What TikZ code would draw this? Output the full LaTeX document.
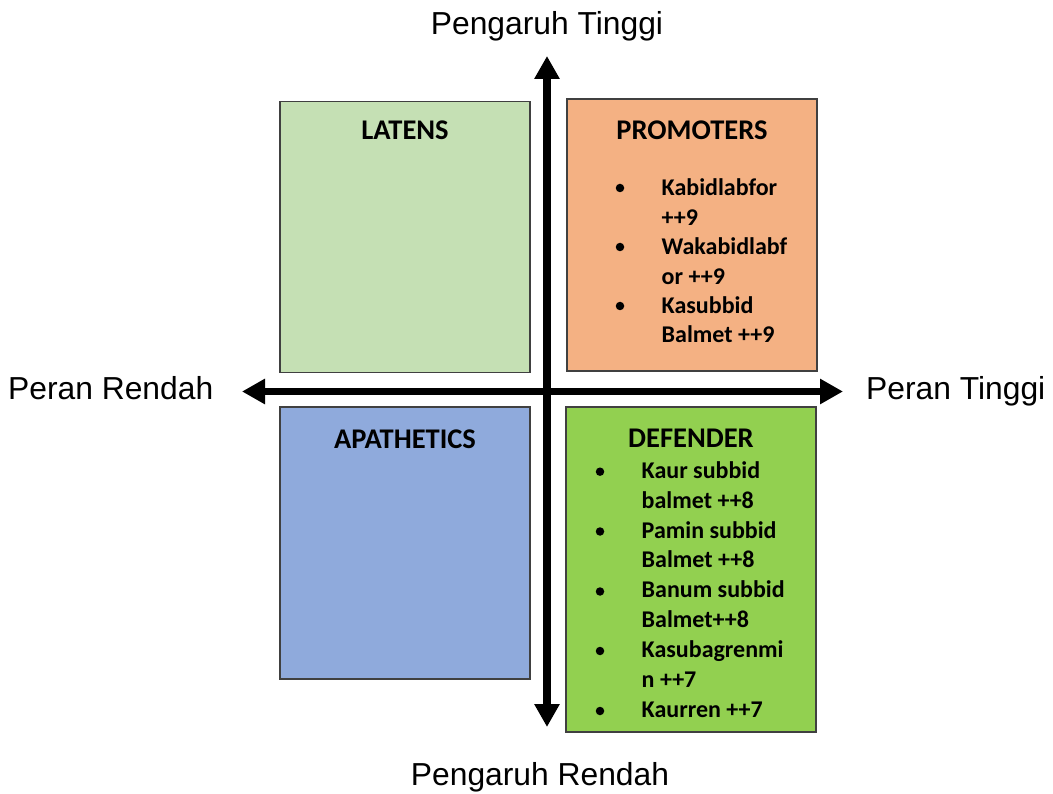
\documentclass[tikz,border=0pt]{standalone}
\usepackage{fontspec}
\setmainfont{Liberation Sans}
\newfontfamily\carlitofont{Carlito}
\usetikzlibrary{arrows.meta}
\definecolor{latcol}{HTML}{C5E0B4}
\definecolor{procol}{HTML}{F4B183}
\definecolor{apacol}{HTML}{8FAADC}
\definecolor{defcol}{HTML}{92D050}
\definecolor{edgecol}{HTML}{404040}
\begin{document}
\begin{tikzpicture}[x=1pt,y=-1pt,
 quad/.style={draw=edgecol,line width=1.2pt,rectangle,inner sep=0pt,minimum width=250pt},
 axislabel/.style={font=\fontsize{31.8}{36}\selectfont,inner sep=0pt},
 heading/.style={font=\carlitofont\bfseries\fontsize{28.5}{34}\selectfont,inner sep=0pt,anchor=base},
 itemtext/.style={font=\carlitofont\bfseries\fontsize{24}{29}\selectfont,inner sep=0pt,anchor=base west},
 bulletdot/.style={circle,fill=black,minimum size=8.5pt,inner sep=0pt},
 axis/.style={line width=7.5pt,{Triangle[width=24pt,length=23pt]}-{Triangle[width=24pt,length=23pt]}}
]
\useasboundingbox (0,0) rectangle (1053,794);

% quadrant boxes
\node[quad,fill=latcol,minimum height=271pt] (lat) at (405,237.2) {};
\node[quad,fill=procol,minimum height=272pt] (pro) at (692,235) {};
\node[quad,fill=apacol,minimum height=272pt] (apa) at (405,543) {};
\node[quad,fill=defcol,minimum height=325pt] (def) at (691,569.5) {};

% axes
\coordinate (top) at (547,56);
\coordinate (bot) at (547,727);
\coordinate (lft) at (242,391.5);
\coordinate (rgt) at (843,391.5);
\draw[axis] (lft) -- (rgt);
\draw[axis] (top) -- (bot);

% axis labels
\node[axislabel,anchor=base] (ht) at (547,35) {Pengaruh Tinggi};
\node[axislabel,anchor=base] (lr) at (540,785) {Pengaruh Rendah};
\node[axislabel,anchor=base west] (pr) at (8,400) {Peran Rendah};
\node[axislabel,anchor=base west] (pt) at (866,400) {Peran Tinggi};

% headings
\node[heading] (latt) at (405,140) {LATENS};
\node[heading] (prot) at (692,140) {PROMOTERS};
\node[heading] (apat) at (405,448) {APATHETICS};
\node[heading] (deft) at (691,447) {DEFENDER};

% promoters items
\foreach \t [count=\i] in {Kabidlabfor,++9,Wakabidlabf,or ++9,Kasubbid,Balmet ++9}
  \node[itemtext] (p\i) at (661.5,{196+29.4*(\i-1)}) {\t};
\foreach \y [count=\i] in {188,247,306}
  \node[bulletdot] (pb\i) at (620,\y) {};

% defender items
\foreach \t [count=\i] in {Kaur subbid,balmet ++8,Pamin subbid,Balmet ++8,Banum subbid,Balmet++8,Kasubagrenmi,n ++7,Kaurren ++7}
  \node[itemtext] (d\i) at (641.5,{478.3+29.85*(\i-1)}) {\t};
\foreach \y [count=\i] in {471.7,531.5,591.5,651,711}
  \node[bulletdot] (db\i) at (600,\y) {};
\end{tikzpicture}
\end{document}
